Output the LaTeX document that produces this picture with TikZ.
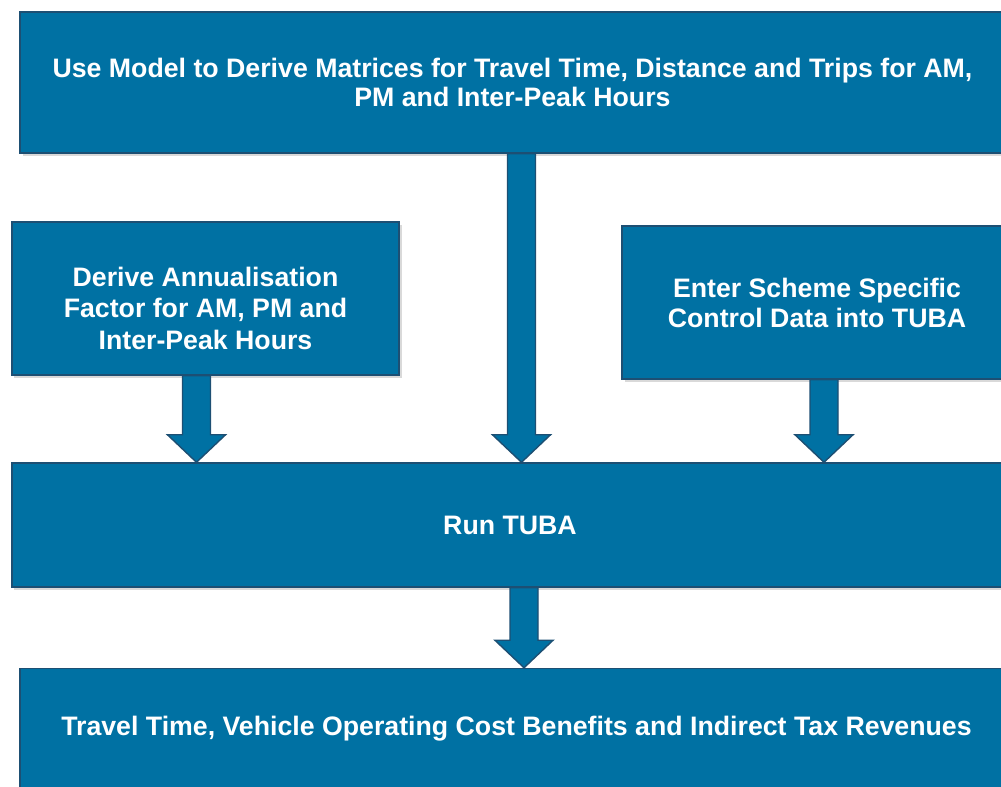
\documentclass[tikz,border=0pt]{standalone}
\usepackage{fontspec}
\setmainfont{Liberation Sans}
\usetikzlibrary{calc,shadows}
\definecolor{tubablue}{HTML}{0071A3}
\definecolor{tubaline}{HTML}{1D4F73}
\tikzset{
  stage/.style={draw=tubaline,fill=tubablue,line width=0.8pt,text=white,align=center,
    font=\bfseries\fontsize{15.2}{16.6}\selectfont,
    drop shadow={shadow xshift=0.05cm,shadow yshift=-0.07cm,opacity=0.3}},
  blockarr/.style={draw=tubaline,fill=tubablue,line width=0.8pt,line join=miter}
}
% block arrow: #1 start point, #2 node whose north side takes the tip
\newcommand{\blockarrow}[2]{%
  \path[blockarr] let \p1=(#1), \p2=(#2.north) in
    (\x1-0.28cm,\y1) -- (\x1+0.28cm,\y1) -- (\x1+0.28cm,\y2+0.55cm) -- (\x1+0.58cm,\y2+0.55cm)
    -- (\x1,\y2) -- (\x1-0.58cm,\y2+0.55cm) -- (\x1-0.28cm,\y2+0.55cm) -- cycle;}

\begin{document}
\begin{tikzpicture}[x=1cm,y=1cm]
\useasboundingbox (0,0) rectangle (20.02,15.74);
\node[stage,minimum width=19.70cm,minimum height=2.82cm] (model) at (10.25,14.09)
  {Use Model to Derive Matrices for Travel Time, Distance and Trips for AM,\\PM and Inter-Peak Hours};
\node[stage,minimum width=7.74cm,minimum height=3.06cm,
  font=\bfseries\fontsize{15.2}{17.9}\selectfont] (annual) at (4.11,9.77)
  {\rule{0pt}{22pt}Derive Annualisation\\Factor for AM, PM and\\Inter-Peak Hours};
\node[stage,minimum width=7.80cm,minimum height=3.06cm,
  font=\bfseries\fontsize{15.2}{17.1}\selectfont] (scheme) at (16.34,9.69)
  {Enter Scheme Specific\\Control Data into TUBA};
\node[stage,minimum width=19.92cm,minimum height=2.48cm] (run) at (10.20,5.24) {Run TUBA};
\node[stage,minimum width=19.86cm,minimum height=2.40cm] (result) at (10.33,1.17)
  {Travel Time, Vehicle Operating Cost Benefits and Indirect Tax Revenues};
\blockarrow{[xshift=-0.18cm]annual.south}{run}
\blockarrow{[xshift=0.18cm]model.south}{run}
\blockarrow{[xshift=0.14cm]scheme.south}{run}
\blockarrow{[xshift=0.28cm]run.south}{result}
\end{tikzpicture}
\end{document}
